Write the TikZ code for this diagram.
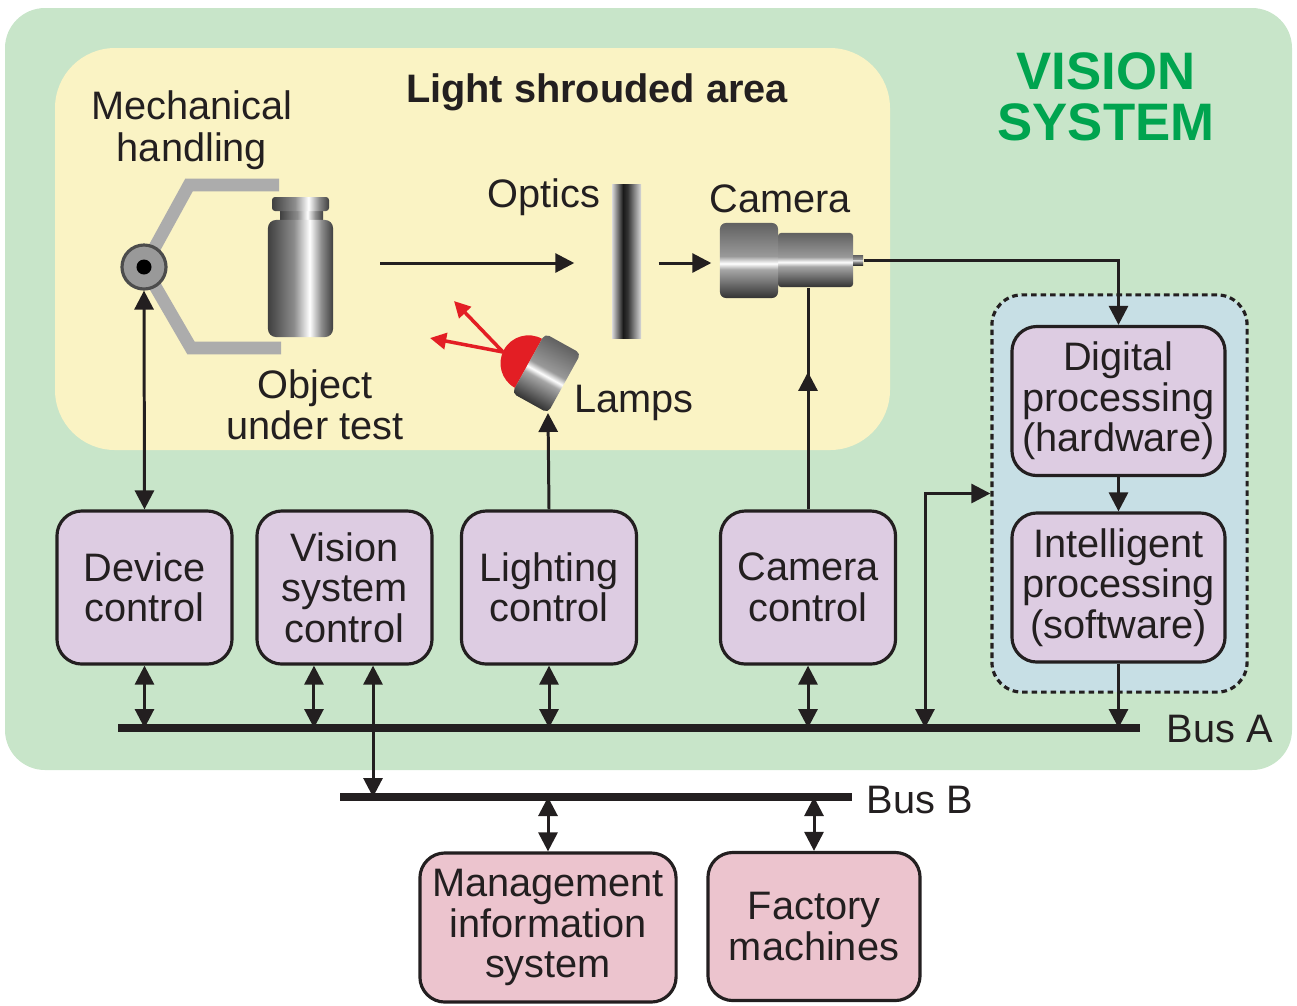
\documentclass[tikz,border=0pt]{standalone}
\usepackage{fontspec}
\setmainfont{Liberation Sans}
\usepackage{tikz}
\usetikzlibrary{arrows.meta,shapes,decorations.markings}

\definecolor{sysgreen}{RGB}{200,229,201}
\definecolor{shroud}{RGB}{250,243,196}
\definecolor{procblue}{RGB}{199,223,229}
\definecolor{ctrlpurple}{RGB}{221,204,226}
\definecolor{extpink}{RGB}{236,196,206}
\definecolor{titlegreen}{RGB}{0,164,79}
\definecolor{lampred}{RGB}{227,30,36}
\definecolor{armgray}{RGB}{172,172,172}
\definecolor{ink}{RGB}{35,31,32}

% metal looks for the vial, the lens and the camera
\pgfdeclarehorizontalshading{metal}{100bp}{color(0bp)=(black!75); color(25bp)=(black!75); color(45bp)=(black!45); color(57bp)=(white); color(66bp)=(black!45); color(75bp)=(black!75); color(100bp)=(black!75)}
\pgfdeclarehorizontalshading{lens}{100bp}{color(0bp)=(black!15); color(25bp)=(black!15); color(44bp)=(black!90); color(52bp)=(black!80); color(75bp)=(black!15); color(100bp)=(black!15)}
\pgfdeclareverticalshading{steel}{100bp}{color(0bp)=(black!80); color(25bp)=(black!80); color(44bp)=(black!35); color(48bp)=(white); color(53bp)=(black!40); color(75bp)=(black!62); color(100bp)=(black!62)}

\tikzstyle{block}=[draw=ink,line width=0.9pt,rounded corners=0.25cm,fill=ctrlpurple,text=ink,align=center,inner sep=0pt,minimum width=1.75cm,minimum height=1.53cm,font=\fontsize{11.3}{11.5}\selectfont]
\tikzstyle{procblock}=[block,minimum width=2.13cm,minimum height=1.49cm]
\tikzstyle{extblock}=[block,fill=extpink,minimum height=1.48cm]
\tikzstyle{note}=[text=ink,align=center,inner sep=0pt,font=\fontsize{11.3}{11.8}\selectfont]
\tikzstyle{flow}=[draw=ink,line width=0.85pt,-{Triangle[length=5.4pt,width=5.4pt]}]
\tikzstyle{link}=[flow,{Triangle[length=5.4pt,width=5.4pt]}-{Triangle[length=5.4pt,width=5.4pt]}]
\tikzstyle{midflow}=[draw=ink,line width=0.85pt,postaction={decorate},decoration={markings,mark=at position 0.62 with {\arrow{Triangle[length=5.4pt,width=5.4pt]}}}]
\tikzstyle{bus}=[draw=ink,line width=2.2pt]
\tikzstyle{ray}=[draw=lampred,line width=1pt,-{Triangle[length=4.6pt,width=4.6pt]}]
\tikzstyle{arm}=[draw=armgray,line width=3.6pt,line join=miter]

\begin{document}
\begin{tikzpicture}[x=0.01cm,y=-0.01cm]
    \useasboundingbox (0,0) rectangle (1297,1005);
    % Areas
    \fill[sysgreen,rounded corners=0.4cm] (5,8) rectangle (1292,770);
    \fill[shroud,rounded corners=0.6cm] (55,48) rectangle (890,450);
    \node[draw=ink,line width=0.9pt,dash pattern=on 1.6pt off 1.1pt,fill=procblue,rounded corners=0.3cm,
          minimum width=2.55cm,minimum height=3.97cm] (proccase) at (1119.5,493.5) {};
    \node[text=titlegreen,align=center,inner sep=0pt,font=\fontsize{15}{14.5}\selectfont\bfseries] (title) at (1106,97) {VISION\\SYSTEM};
    \node[note,font=\fontsize{11.3}{11.8}\selectfont\bfseries] (shroudtitle) at (597,92) {Light shrouded area};

    % Mechanical handling and the object
    \draw[arm] (144,267) -- (189,185) -- (279,185);
    \draw[arm] (144,267) -- (191,348) -- (281,348);
    \node[circle,draw=black!70,line width=0.9pt,fill=black!40,minimum size=0.44cm,inner sep=0pt] (pivot) at (144,267) {};
    \fill[black] (pivot) circle (0.075cm);
    \shade[shading=metal,rounded corners=0.02cm] (280,208) rectangle (323,224);
    \shade[shading=metal,rounded corners=0.03cm] (272,197) rectangle (329,211);
    \node[shade,shading=metal,rounded corners=0.08cm,minimum width=0.65cm,minimum height=1.17cm,inner sep=0pt] (vial) at (300.5,278.5) {};
    \node[note] (mech) at (192,130) {Mechanical\\handling};
    \node[note] (objlabel) at (315,405) {Object\\under test};

    % Optics and camera
    \node[shade,shading=lens,minimum width=0.29cm,minimum height=1.53cm,inner sep=0pt] (optics) at (626.5,261.5) {};
    \node[shade,shading=steel,rounded corners=0.03cm,minimum width=0.75cm,minimum height=0.54cm,inner sep=0pt] (camback) at (815.5,260) {};
    \node[shade,shading=steel,rounded corners=0.06cm,minimum width=0.58cm,minimum height=0.75cm,inner sep=0pt] (camera) at (749,260.5) {};
    \node[shade,shading=steel,minimum width=0.1cm,minimum height=0.1cm,inner sep=0pt] (plug) at (858,260) {};
    \node[note] (opticslabel) at (544,197) {Optics};
    \node[note] (cameralabel) at (780,199) {Camera};
    \coordinate (beam) at (380,263);

    % Lamp
    \begin{scope}[transform canvas={shift={(546,373)},rotate=-29}]
        \fill[lampred] (-20,-28) arc[start angle=90,end angle=270,radius=0.28cm] -- cycle;
        \shade[shading=steel,rounded corners=0.05cm] (-20,-34) rectangle (21,34);
    \end{scope}
    \coordinate (glow) at (503,352);
    \coordinate (rayA) at (454,301);
    \coordinate (rayB) at (430,338);
    \coordinate (lampbase) at (548,413);
    \draw[ray] (glow) -- (rayA);
    \draw[ray] (glow) -- (rayB);
    \node[note] (lamplabel) at (634,403) {Lamps};

    % Control and processing boxes
    \foreach \pos/\name/\txt in {{(144.5,587.5)/dev/Device\\control}, {(344.5,587.5)/vsc/Vision\\system\\control},
                                 {(549,587.5)/light/Lighting\\control}, {(808,587.5)/camctrl/Camera\\control}}
        \node[block] (\name) at \pos {\txt};
    \node[procblock] (digital) at (1118.5,401) {Digital\\processing\\(hardware)};
    \node[procblock] (intel) at (1118.5,587.5) {Intelligent\\processing\\(software)};
    \node[extblock,minimum width=2.56cm,minimum height=1.49cm] (mis) at (548,927.5) {Management\\information\\system};
    \node[extblock,minimum width=2.12cm] (factory) at (814,926.5) {Factory\\machines};

    % Buses
    \coordinate (busAw) at (118,728);
    \coordinate (busAe) at (1140,728);
    \coordinate (busBw) at (340,797);
    \coordinate (busBe) at (852,797);
    \coordinate (tap) at (925,728);

    % Connections
    \draw[flow,shorten >=0.37cm] (beam) -- (beam -| optics.west);
    \draw[flow,shorten <=0.17cm,shorten >=0.08cm] (optics.east |- beam) -- (beam -| camera.west);
    \draw[flow] (plug.east) -| (digital.north);
    \draw[midflow] (camctrl.north) -- (camctrl.north |- camback.south);
    \draw[flow] (light.north) -- (lampbase);
    \draw[link] (dev.north) -- (pivot.south);
    \draw[flow] (digital) -- (intel);
    \foreach \source in {dev, light, camctrl}
        \path[link] (\source.south) -- (\source.south |- busAw);
    \draw[link] ([xshift=-0.305cm]vsc.south) -- ([xshift=-0.305cm]vsc.south |- busAw);
    \draw[link] ([xshift=0.285cm]vsc.south) -- ([xshift=0.285cm]vsc.south |- busBw);
    \draw[link] (tap) |- (proccase.west);
    \draw[flow] (intel.south) -- (intel.south |- busAw);
    \foreach \dest in {mis, factory}
        \path[link] (\dest.north |- busBw) -- (\dest.north);
    \draw[bus] (busAw) -- (busAe);
    \draw[bus] (busBw) -- (busBe);
    \node[note,anchor=west] (busAlabel) at (1166,729) {Bus A};
    \node[note,anchor=west] (busBlabel) at (866,800) {Bus B};
\end{tikzpicture}
\end{document}
